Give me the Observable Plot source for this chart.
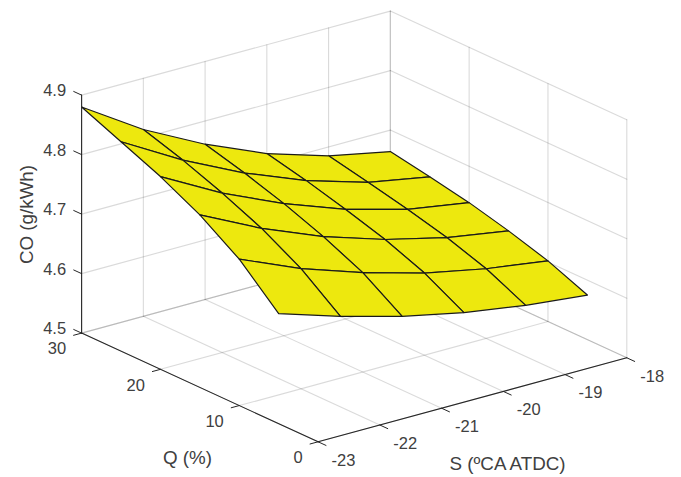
<!DOCTYPE html>
<html>
<head>
<meta charset="utf-8">
<script src="https://cdn.jsdelivr.net/npm/d3@7"></script>
<script src="https://cdn.jsdelivr.net/npm/@observablehq/plot@0.6"></script>
<style>
html,body{margin:0;padding:0;background:#fff}
svg{display:block}
</style>
</head>
<body>
<div id="chart"></div>
<script>
// Data
const sValues = [-23, -22, -21, -20, -19, -18];
const qValues = [30, 25, 20, 15, 10, 5];
const coQ30 = [4.880, 4.814, 4.761, 4.717, 4.685, 4.664];
const coQ25 = [4.852, 4.793, 4.743, 4.702, 4.671, 4.652];
const coQ20 = [4.824, 4.768, 4.722, 4.684, 4.656, 4.639];
const coQ15 = [4.790, 4.739, 4.697, 4.664, 4.639, 4.622];
const coQ10 = [4.746, 4.702, 4.667, 4.638, 4.617, 4.602];
const coQ5  = [4.685, 4.652, 4.624, 4.602, 4.586, 4.575];
const coRows = [coQ30, coQ25, coQ20, coQ15, coQ10, coQ5];

const sTicks = [-23, -22, -21, -20, -19, -18];
const qTicks = [0, 10, 20, 30];
const zTicks = [4.5, 4.6, 4.7, 4.8, 4.9];
const sTitle = "S (ºCA ATDC)";
const qTitle = "Q (%)";
const zTitle = "CO (g/kWh)";

// View: orthographic 3D projection
const view = {x0: 317.6, y0: 441.3, sx: 61.74, sy: -16.8, qx: -7.883, qy: -3.623, zy: -595};
const px = (s, q) => view.x0 + (s + 23) * view.sx + q * view.qx;
const py = (s, q, z) => view.y0 + (s + 23) * view.sy + q * view.qy + (z - 4.5) * view.zy;
const pt = (s, q, z) => ({X: px(s, q), Y: py(s, q, z)});

const seg = (key, a, b) => [{...a, k: key}, {...b, k: key}];

// Grid
const sMin = -23, sMax = -18, qMin = 0, qMax = 30, zMin = 4.5, zMax = 4.9;
const grid = [];
sTicks.forEach(s => {
  grid.push(...seg("fs" + s, pt(s, qMin, zMin), pt(s, qMax, zMin)));
  grid.push(...seg("ws" + s, pt(s, qMax, zMin), pt(s, qMax, zMax)));
});
qTicks.forEach(q => {
  grid.push(...seg("fq" + q, pt(sMin, q, zMin), pt(sMax, q, zMin)));
  grid.push(...seg("wq" + q, pt(sMax, q, zMin), pt(sMax, q, zMax)));
});
zTicks.forEach(z => {
  grid.push(...seg("zl" + z, pt(sMin, qMax, z), pt(sMax, qMax, z)));
  grid.push(...seg("zr" + z, pt(sMax, qMax, z), pt(sMax, qMin, z)));
});

// Surface cells, back to front
const cells = [];
for (let r = 0; r < qValues.length - 1; r++) {
  for (let c = sValues.length - 2; c >= 0; c--) {
    const k = r + "-" + c;
    [[r, c], [r, c + 1], [r + 1, c + 1], [r + 1, c]].forEach(([i, j]) =>
      cells.push({...pt(sValues[j], qValues[i], coRows[i][j]), k}));
  }
}

// Axes
const axes = [
  ...seg("z", pt(sMin, qMax, zMin), pt(sMin, qMax, zMax)),
  ...seg("q", pt(sMin, qMax, zMin), pt(sMin, qMin, zMin)),
  ...seg("s", pt(sMin, qMin, zMin), pt(sMax, qMin, zMin))
];
const ticks = [];
sTicks.forEach(s => ticks.push(...seg("ts" + s, pt(s, qMin, zMin), pt(s, qMin - 1, zMin))));
qTicks.forEach(q => ticks.push(...seg("tq" + q, pt(sMin, q, zMin), pt(sMin - 0.13, q, zMin))));
zTicks.forEach(z => ticks.push(...seg("tz" + z, pt(sMin, qMax, z), pt(sMin, qMax + 1, z))));

const font = "Liberation Sans, Arial, sans-serif";
const textColor = "#404040";
const tickText = {fontSize: 16.5, fill: textColor, fontFamily: font};
const titleText = {fontSize: 18.8, fill: textColor, fontFamily: font};

const chart = Plot.plot({
  width: 681,
  height: 477,
  margin: 0,
  x: {domain: [0, 681], axis: null},
  y: {domain: [477, 0], axis: null},
  style: {background: "#fff"},
  marks: [
    Plot.line(grid, {x: "X", y: "Y", z: "k", stroke: "#262626", strokeOpacity: 0.17, strokeWidth: 1.1}),
    Plot.line(cells, {x: "X", y: "Y", z: "k", curve: "linear-closed", fill: "#ede80e", stroke: "#1a1a1a", strokeWidth: 1.2, strokeLinejoin: "round"}),
    Plot.line(ticks, {x: "X", y: "Y", z: "k", stroke: "#262626", strokeWidth: 1}),
    Plot.line(axes, {x: "X", y: "Y", z: "k", stroke: "#262626", strokeWidth: 1.1}),
    Plot.text(zTicks, {x: () => px(sMin, qMax), y: z => py(sMin, qMax, z), text: z => z.toFixed(1), textAnchor: "end", dx: -15.5, dy: -4, ...tickText}),
    Plot.text(qTicks, {x: q => px(sMin, q), y: q => py(sMin, q, zMin), text: q => String(q), textAnchor: "end", dx: -15.5, dy: 16, ...tickText}),
    Plot.text(sTicks, {x: s => px(s, qMin), y: s => py(s, qMin, zMin), text: s => "-" + Math.abs(s), textAnchor: "start", dx: 13.5, dy: 18.5, ...tickText}),
    Plot.text([sTitle], {x: () => 507, y: () => 463.5, text: d => d, textAnchor: "middle", ...titleText}),
    Plot.text([qTitle], {x: () => 187, y: () => 457.5, text: d => d, textAnchor: "middle", ...titleText}),
    Plot.text([zTitle], {x: () => 26.5, y: () => 214, text: d => d, textAnchor: "middle", rotate: -90, ...titleText})
  ]
});
document.getElementById("chart").append(chart);
</script>
</body>
</html>
